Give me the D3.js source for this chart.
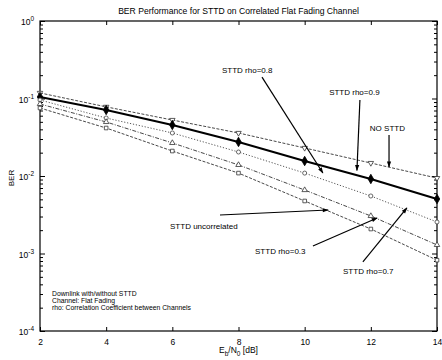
<!DOCTYPE html>
<html><head><meta charset="utf-8">
<script src="https://cdn.jsdelivr.net/npm/d3@7"></script>
<style>
html,body{margin:0;padding:0;background:#fff;}
svg{display:block;font-family:"Liberation Sans",Arial,sans-serif;}
</style></head>
<body>
<svg id="c" width="442" height="360"></svg>
<script>
// ---- data ----
const ebno = [2, 4, 6, 8, 10, 12, 14];
const xTickValues = [2, 4, 6, 8, 10, 12, 14];
const yDecades = [0, -1, -2, -3, -4];
const noSttd = [0.118, 0.078, 0.0528, 0.0359, 0.023, 0.0147, 0.0094];
const rho09  = [0.1046, 0.0711, 0.0455, 0.0275, 0.0156, 0.00915, 0.00505];
const rho07  = [0.0957, 0.056, 0.0359, 0.0204, 0.0109, 0.00552, 0.00255];
const rho03  = [0.0849, 0.0498, 0.0267, 0.0139, 0.00659, 0.00305, 0.00129];
const uncorr = [0.0754, 0.0416, 0.021, 0.0109, 0.00476, 0.00207, 0.00082];
const title = "BER Performance for STTD on Correlated Flat Fading Channel";
const notes = ["Downlink with/without STTD", "Channel: Flat Fading", "rho: Correlation Coefficient between Channels"];

// annotation labels (data coordinates: dB, BER)
const labels = [
  {t: "STTD rho=0.8", x: 7.50, y: 0.213},
  {t: "STTD rho=0.9", x: 10.74, y: 0.111},
  {t: "NO STTD", x: 11.97, y: 0.0381},
  {t: "STTD uncorrelated", x: 5.93, y: 0.00207},
  {t: "STTD rho=0.3", x: 8.50, y: 0.000986},
  {t: "STTD rho=0.7", x: 11.16, y: 0.000543}
];
const arrows = [
  {x1: 8.71, y1: 0.189, x2: 10.55, y2: 0.01093},
  {x1: 11.67, y1: 0.0957, x2: 11.58, y2: 0.0118},
  {x1: 12.55, y1: 0.0338, x2: 12.55, y2: 0.01306},
  {x1: 7.44, y1: 0.00314, x2: 10.71, y2: 0.00364},
  {x1: 10.25, y1: 0.00125, x2: 12.19, y2: 0.00287},
  {x1: 11.76, y1: 0.000777, x2: 13.09, y2: 0.00387}
];

// ---- layout ----
const L = 40, R = 437, T = 21, B = 331;
const svg = d3.select("#c");
const x = d3.scaleLinear().domain([2, 14]).range([L, R]);
const y = d3.scaleLog().domain([1e-4, 1]).range([B, T]);

// frame
svg.append("rect").attr("x", L).attr("y", T).attr("width", R - L).attr("height", B - T)
  .attr("fill", "none").attr("stroke", "#000").attr("stroke-width", 1.2);

// x ticks (inward, top & bottom)
const xAxisB = d3.axisBottom(x).tickValues(xTickValues).tickSize(-4).tickPadding(8).tickFormat(d3.format("d"));
const gxb = svg.append("g").attr("transform", `translate(0,${B})`).call(xAxisB);
const gxt = svg.append("g").attr("transform", `translate(0,${T})`)
  .call(d3.axisTop(x).tickValues(xTickValues).tickSize(-4).tickFormat(""));
[gxb, gxt].forEach(g => { g.select(".domain").remove(); g.selectAll("line").attr("stroke", "#000"); });
gxb.selectAll("text").attr("font-size", 8.5).attr("fill", "#000");

// y ticks: major + minor inward, left & right
const minor = [];
yDecades.slice(1).forEach(e => { for (let k = 2; k <= 9; k++) minor.push(k * Math.pow(10, e)); });
const major = yDecades.map(e => Math.pow(10, e));
const gyl = svg.append("g").attr("transform", `translate(${L},0)`)
  .call(d3.axisLeft(y).tickValues(major).tickSize(-5).tickFormat(""));
const gyl2 = svg.append("g").attr("transform", `translate(${L},0)`)
  .call(d3.axisLeft(y).tickValues(minor).tickSize(-3).tickFormat(""));
const gyr = svg.append("g").attr("transform", `translate(${R},0)`)
  .call(d3.axisRight(y).tickValues(major).tickSize(-5).tickFormat(""));
const gyr2 = svg.append("g").attr("transform", `translate(${R},0)`)
  .call(d3.axisRight(y).tickValues(minor).tickSize(-3).tickFormat(""));
[gyl, gyl2, gyr, gyr2].forEach(g => { g.select(".domain").remove(); g.selectAll("line").attr("stroke", "#000"); });

// y tick labels 10^e
yDecades.forEach(e => {
  const t = svg.append("text").attr("x", L - 6).attr("y", y(Math.pow(10, e)) + 4)
    .attr("text-anchor", "end").attr("font-size", 8.5).attr("fill", "#000");
  t.append("tspan").text("10");
  t.append("tspan").attr("dy", -4).attr("font-size", 6.5).text(String(e));
});

// title & axis labels
svg.append("text").attr("x", (L + R) / 2).attr("y", 14).attr("text-anchor", "middle")
  .attr("font-size", 8.6).attr("fill", "#000").text(title);
svg.append("text").attr("transform", `translate(14,${(T + B) / 2 + 2}) rotate(-90)`)
  .attr("text-anchor", "middle").attr("font-size", 8).attr("fill", "#000").text("BER");
const xl = svg.append("text").attr("x", (L + R) / 2).attr("y", 353).attr("text-anchor", "middle")
  .attr("font-size", 8.5).attr("fill", "#000");
xl.append("tspan").text("E");
xl.append("tspan").attr("dy", 2.5).attr("font-size", 6.5).text("b");
xl.append("tspan").attr("dy", -2.5).text("/N");
xl.append("tspan").attr("dy", 2.5).attr("font-size", 6.5).text("0");
xl.append("tspan").attr("dy", -2.5).text(" [dB]");

// series
const series = [
  {v: noSttd, dash: "3,1.5", w: 0.9, col: "#333", m: "triDown"},
  {v: rho09, dash: null, w: 2, col: "#000", m: "diamond"},
  {v: rho07, dash: "1.2,1.8", w: 0.9, col: "#444", m: "circle"},
  {v: rho03, dash: "4,1.5,1,1.5", w: 0.9, col: "#333", m: "tri"},
  {v: uncorr, dash: "3,1.5", w: 0.9, col: "#333", m: "square"}
];
const line = d3.line().x((d, i) => x(ebno[i])).y(d => y(d));
const symType = {triDown: d3.symbolTriangle, diamond: d3.symbolDiamond, circle: d3.symbolCircle, tri: d3.symbolTriangle, square: d3.symbolSquare};
series.forEach(s => {
  svg.append("path").datum(s.v).attr("d", line).attr("fill", "none")
    .attr("stroke", s.col).attr("stroke-width", s.w).attr("stroke-dasharray", s.dash);
  const sym = d3.symbol().type(symType[s.m]).size(s.m === "diamond" ? 26 : 13);
  svg.append("g").selectAll("path").data(s.v).join("path")
    .attr("d", sym)
    .attr("transform", (d, i) => `translate(${x(ebno[i])},${y(d)})` + (s.m === "triDown" ? " rotate(180)" : ""))
    .attr("fill", s.m === "diamond" ? "#000" : "#fff")
    .attr("stroke", s.col).attr("stroke-width", 0.8);
});

// annotations
const defs = svg.append("defs");
defs.append("marker").attr("id", "ah").attr("viewBox", "0 0 10 10").attr("refX", 9).attr("refY", 5)
  .attr("markerWidth", 7).attr("markerHeight", 6).attr("markerUnits", "userSpaceOnUse").attr("orient", "auto")
  .append("path").attr("d", "M0,1.5 L10,5 L0,8.5 Z").attr("fill", "#000");
svg.append("g").selectAll("line").data(arrows).join("line")
  .attr("x1", d => x(d.x1)).attr("y1", d => y(d.y1))
  .attr("x2", d => x(d.x2)).attr("y2", d => y(d.y2))
  .attr("stroke", "#000").attr("stroke-width", 1.2).attr("marker-end", "url(#ah)");
svg.append("g").selectAll("text").data(labels).join("text")
  .attr("x", d => x(d.x)).attr("y", d => y(d.y))
  .attr("font-size", 8).attr("fill", "#000").text(d => d.t);

// notes
svg.append("g").selectAll("text").data(notes).join("text")
  .attr("x", 52).attr("y", (d, i) => 296 + i * 7.2)
  .attr("font-size", 6.8).attr("fill", "#000").text(d => d);
</script>
</body></html>
